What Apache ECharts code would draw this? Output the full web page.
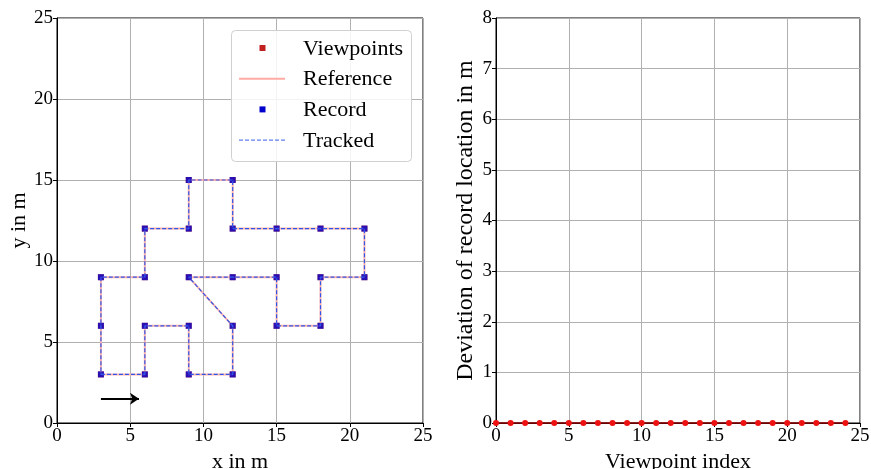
<!DOCTYPE html>
<html>
<head>
<meta charset="utf-8">
<script src="https://cdn.jsdelivr.net/npm/echarts@6/dist/echarts.min.js"></script>
<style>
  html, body { margin: 0; padding: 0; background: #fff; }
  #chart { width: 871px; height: 469px; }
</style>
</head>
<body>
<div id="chart"></div>
<script>
// Planned route: viewpoint coordinates in metres, in visiting order
const viewX = [3, 6, 6, 9, 9, 12, 12, 9, 12, 15, 15, 18, 18, 21, 21, 18, 15, 12, 12, 9, 9, 6, 6, 3, 3];
const viewY = [3, 3, 6, 6, 3, 3, 6, 9, 9, 9, 6, 6, 9, 9, 12, 12, 12, 12, 15, 15, 12, 12, 9, 9, 6];
// Positions where records were taken (coincide with the viewpoints)
const recordX = [3, 6, 6, 9, 9, 12, 12, 9, 12, 15, 15, 18, 18, 21, 21, 18, 15, 12, 12, 9, 9, 6, 6, 3, 3];
const recordY = [3, 3, 6, 6, 3, 3, 6, 9, 9, 9, 6, 6, 9, 9, 12, 12, 12, 12, 15, 15, 12, 12, 9, 9, 6];
// Start direction arrow (from, to) in metres
const arrowFrom = [3, 1.5];
const arrowTo = [5.6, 1.5];
// Deviation of each record from its viewpoint, in metres
const viewpointIndex = [0, 1, 2, 3, 4, 5, 6, 7, 8, 9, 10, 11, 12, 13, 14, 15, 16, 17, 18, 19, 20, 21, 22, 23, 24];
const deviation = [0, 0, 0, 0, 0, 0, 0, 0, 0, 0, 0, 0, 0, 0, 0, 0, 0, 0, 0, 0, 0, 0, 0, 0, 0];
// Axis ranges
const mapRange = [0, 25];
const indexRange = [0, 25];
const devRange = [0, 8];

const FONT = 'Liberation Serif';

function pairs(xs, ys) { return xs.map((x, i) => [x, ys[i]]); }
function closed(xs, ys) { const p = pairs(xs, ys); p.push(p[0].slice()); return p; }

const viewPts = pairs(viewX, viewY);
const refLoop = closed(viewX, viewY);
const recPts = pairs(recordX, recordY);
const trackLoop = closed(recordX, recordY);
const devPts = viewpointIndex.map((i, k) => [i, deviation[k]]);

function axis(gridIndex, range, interval, name, gap, nameSize) {
  return {
    gridIndex, type: 'value', min: range[0], max: range[1], interval,
    name, nameLocation: 'middle', nameGap: gap,
    nameTextStyle: { fontFamily: FONT, fontSize: nameSize, color: '#000' },
    axisLine: { show: true, onZero: false, lineStyle: { color: '#000', width: 1 } },
    axisTick: { show: true, inside: false, length: 4, lineStyle: { color: '#000', width: 1 } },
    axisLabel: { fontFamily: FONT, fontSize: 19, color: '#000', margin: 4 },
    splitLine: { show: true, lineStyle: { color: '#b0b0b0', width: 1 } }
  };
}

const chart = echarts.init(document.getElementById('chart'), null, { renderer: 'canvas' });

const legendRows = [
  { text: 'Viewpoints', kind: 'square', color: '#c0201f' },
  { text: 'Reference', kind: 'line', color: '#ffaaa4' },
  { text: 'Record', kind: 'square', color: '#0000cc' },
  { text: 'Tracked', kind: 'dash', color: '#3a5fe5' }
];
const legendGraphics = [{
  type: 'rect', left: 231, top: 30,
  shape: { width: 180, height: 131, r: 4 },
  style: { fill: 'rgba(255,255,255,0.85)', stroke: '#d0d0d0', lineWidth: 1 },
  z: 100
}];
legendRows.forEach((r, i) => {
  const cy = 48 + i * 30.7;
  if (r.kind === 'square') {
    legendGraphics.push({ type: 'rect', shape: { x: 259.5, y: cy - 3, width: 6, height: 6 }, style: { fill: r.color }, z: 101 });
  } else {
    legendGraphics.push({
      type: 'line', shape: { x1: 239, y1: cy, x2: 285, y2: cy },
      style: { stroke: r.color, lineWidth: r.kind === 'line' ? 2 : 1, lineDash: r.kind === 'dash' ? [4, 2] : null },
      z: 101
    });
  }
  legendGraphics.push({
    type: 'text', x: 303, y: cy + 1,
    style: { text: r.text, font: '22px "' + FONT + '"', fill: '#000', verticalAlign: 'middle' }, z: 101
  });
});

chart.setOption({
  animation: false,
  backgroundColor: '#fff',
  grid: [
    { left: 57, top: 18, width: 366, height: 405, show: true, borderColor: '#000', borderWidth: 1, containLabel: false, outerBoundsMode: 'none' },
    { left: 496, top: 18, width: 364, height: 405, show: true, borderColor: '#000', borderWidth: 1, containLabel: false, outerBoundsMode: 'none' }
  ],
  xAxis: [
    axis(0, mapRange, 5, 'x in m', 23, 22),
    axis(1, indexRange, 5, 'Viewpoint index', 23, 22)
  ],
  yAxis: [
    axis(0, mapRange, 5, 'y in m', 24, 22),
    axis(1, devRange, 1, 'Deviation of record location in m', 18, 24)
  ],
  graphic: legendGraphics,
  series: [
    {
      name: 'Viewpoints', type: 'scatter', xAxisIndex: 0, yAxisIndex: 0,
      data: viewPts, symbol: 'rect', symbolSize: 6,
      itemStyle: { color: '#c0201f' }, z: 2
    },
    {
      name: 'Reference', type: 'line', xAxisIndex: 0, yAxisIndex: 0,
      data: refLoop, showSymbol: false, symbol: 'none',
      lineStyle: { color: '#ffb4ae', width: 2 }, z: 3
    },
    {
      name: 'Record', type: 'scatter', xAxisIndex: 0, yAxisIndex: 0,
      data: recPts, symbol: 'rect', symbolSize: 6,
      itemStyle: { color: '#0000cc' }, z: 4
    },
    {
      name: 'Tracked', type: 'line', xAxisIndex: 0, yAxisIndex: 0,
      data: trackLoop, showSymbol: false, symbol: 'none',
      lineStyle: { color: '#2f55e8', width: 1.2, type: [4, 2] }, z: 5
    },
    {
      name: 'Start', type: 'lines', coordinateSystem: 'cartesian2d', xAxisIndex: 0, yAxisIndex: 0,
      data: [{ coords: [arrowFrom, arrowTo] }],
      symbol: ['none', 'arrow'], symbolSize: [0, 9],
      lineStyle: { color: '#000', width: 1.8, opacity: 1 }, z: 6
    },
    {
      name: 'Deviation', type: 'line', xAxisIndex: 1, yAxisIndex: 1,
      data: devPts, symbol: 'circle', symbolSize: 6, showSymbol: true,
      lineStyle: { color: '#8b0000', width: 1.5 },
      itemStyle: { color: '#ee1111', borderWidth: 0 }, z: 5, clip: false
    }
  ]
});
</script>
</body>
</html>
